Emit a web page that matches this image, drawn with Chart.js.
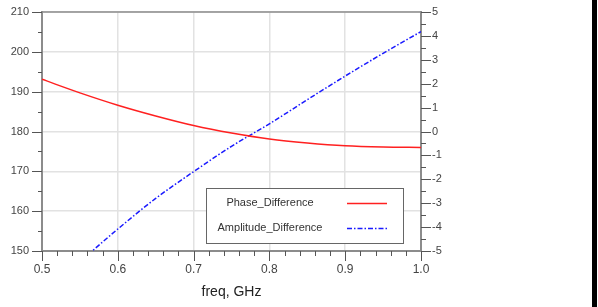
<!DOCTYPE html>
<html>
<head>
<meta charset="utf-8">
<script src="https://cdn.jsdelivr.net/npm/chart.js@4.4.0/dist/chart.umd.min.js"></script>
<style>
    body { margin: 0; background: #fff; }
    #wrap { position: relative; width: 598px; height: 307px; }
    #strip { position: absolute; left: 592px; top: 0; width: 5px; height: 307px; background: #000; }
</style>
</head>
<body>
<div id="wrap">
    <canvas id="phaseChart" width="598" height="307"></canvas>
    <div id="strip"></div>
</div>
<script>
// Chart data
const freqs = [0.5, 0.55, 0.6, 0.65, 0.7, 0.75, 0.8, 0.85, 0.9, 0.95, 1.0];
const phaseDiff = [193.1, 189.7, 186.6, 183.9, 181.5, 179.6, 178.1, 177.1, 176.4, 176.1, 176.0];
const ampDiff = [null, -5.45, -4.08, -2.8, -1.68, -0.62, 0.32, 1.33, 2.32, 3.27, 4.18];
const seriesNames = ['Phase_Difference', 'Amplitude_Difference'];
const xTitle = 'freq, GHz';

const FONT = 'Liberation Sans, Arial, sans-serif';
const AXIS_GRAY = '#8c8c8c';
const GRID_GRAY = '#e2e2e2';

function isMultiple(value, step) {
    const r = value / step;
    return Math.abs(r - Math.round(r)) < 1e-6;
}

function toPoints(values) {
    return freqs.map((f, i) => ({ x: f, y: values[i] }));
}

// fixed axis sizes so the plot box lands where the reference has it
function fitVertical(width) {
    return scale => {
        scale.width = width;
        scale.paddingTop = 0;
        scale.paddingBottom = 0;
    };
}

// Draws minor/major tick marks, the top frame line and the boxed legend
const decorPlugin = {
    id: 'decor',
    afterDraw(chart) {
        const ctx = chart.ctx;
        const area = chart.chartArea;
        const sx = chart.scales.x;
        const sy = chart.scales.y;
        const sy1 = chart.scales.y1;
        ctx.save();
        ctx.strokeStyle = '#555';
        ctx.lineWidth = 1;

        // bottom ticks
        for (let v = 0.5; v <= 1.0001; v += 0.02) {
            const px = Math.round(sx.getPixelForValue(v)) + 0.5;
            const len = isMultiple(v, 0.1) ? 10 : 5;
            ctx.beginPath();
            ctx.moveTo(px, area.bottom);
            ctx.lineTo(px, area.bottom + len);
            ctx.stroke();
        }
        // left ticks
        for (let v = 150; v <= 210; v += 5) {
            const py = Math.round(sy.getPixelForValue(v)) + 0.5;
            const len = isMultiple(v, 10) ? 10 : 4;
            ctx.beginPath();
            ctx.moveTo(area.left - len, py);
            ctx.lineTo(area.left, py);
            ctx.stroke();
        }
        // right ticks
        for (let v = -5; v <= 5.0001; v += 0.5) {
            const py = Math.round(sy1.getPixelForValue(v)) + 0.5;
            const len = isMultiple(v, 1) ? 10 : 5;
            ctx.beginPath();
            ctx.moveTo(area.right, py);
            ctx.lineTo(area.right + len, py);
            ctx.stroke();
        }

        // top frame line
        ctx.strokeStyle = AXIS_GRAY;
        ctx.lineWidth = 1.5;
        ctx.beginPath();
        ctx.moveTo(area.left, area.top);
        ctx.lineTo(area.right, area.top);
        ctx.stroke();

        // legend box
        const bx = 206.5, by = 188.5, bw = 197, bh = 55;
        ctx.fillStyle = '#fff';
        ctx.fillRect(bx, by, bw, bh);
        ctx.strokeStyle = '#666';
        ctx.lineWidth = 1;
        ctx.strokeRect(bx, by, bw, bh);

        ctx.font = '11px ' + FONT;
        ctx.fillStyle = '#333';
        ctx.textAlign = 'center';
        ctx.textBaseline = 'middle';
        const rows = [203, 228];
        chart.data.datasets.forEach((ds, i) => {
            ctx.fillText(ds.label, 270, rows[i]);
            ctx.strokeStyle = ds.borderColor;
            ctx.lineWidth = ds.borderWidth;
            ctx.setLineDash(ds.borderDash || []);
            ctx.beginPath();
            ctx.moveTo(347, rows[i] + 0.5);
            ctx.lineTo(387, rows[i] + 0.5);
            ctx.stroke();
            ctx.setLineDash([]);
        });
        ctx.restore();
    }
};

const ctx = document.getElementById('phaseChart').getContext('2d');

new Chart(ctx, {
    type: 'line',
    data: {
        datasets: [
            {
                label: seriesNames[0],
                data: toPoints(phaseDiff),
                yAxisID: 'y',
                borderColor: '#ff2020',
                borderWidth: 1.5,
                pointRadius: 0,
                cubicInterpolationMode: 'monotone',
                fill: false
            },
            {
                label: seriesNames[1],
                data: toPoints(ampDiff),
                yAxisID: 'y1',
                borderColor: '#1a1aff',
                borderWidth: 1.5,
                borderDash: [5, 2, 1.5, 2],
                pointRadius: 0,
                cubicInterpolationMode: 'monotone',
                fill: false
            }
        ]
    },
    options: {
        responsive: false,
        animation: false,
        layout: {
            padding: { top: 12, right: 153, left: 0, bottom: 0 }
        },
        plugins: {
            legend: { display: false },
            tooltip: { enabled: false }
        },
        scales: {
            x: {
                type: 'linear',
                min: 0.5,
                max: 1.0,
                afterFit: scale => {
                    scale.height = 56;
                    scale.paddingLeft = 0;
                    scale.paddingRight = 0;
                },
                border: { color: AXIS_GRAY, width: 2 },
                grid: {
                    drawTicks: false,
                    lineWidth: 1.5,
                    color: c => (c.tick && isMultiple(c.tick.value, 0.1)) ? GRID_GRAY : 'rgba(0,0,0,0)'
                },
                ticks: {
                    stepSize: 0.02,
                    autoSkip: false,
                    maxRotation: 0,
                    padding: 11,
                    color: '#444',
                    font: { family: FONT, size: 12 },
                    callback: v => isMultiple(v, 0.1) ? v.toFixed(1) : ''
                },
                title: {
                    display: true,
                    text: xTitle,
                    color: '#222',
                    font: { family: FONT, size: 14 },
                    padding: { top: 0, bottom: 6 }
                }
            },
            y: {
                position: 'left',
                min: 150,
                max: 210,
                afterFit: fitVertical(42),
                border: { color: AXIS_GRAY, width: 2 },
                grid: {
                    drawTicks: false,
                    lineWidth: 1.5,
                    color: c => (c.tick && isMultiple(c.tick.value, 10)) ? GRID_GRAY : 'rgba(0,0,0,0)'
                },
                ticks: {
                    stepSize: 5,
                    autoSkip: false,
                    padding: 13,
                    color: '#444',
                    font: { family: FONT, size: 11 },
                    callback: v => isMultiple(v, 10) ? String(v) : ''
                }
            },
            y1: {
                position: 'right',
                min: -5,
                max: 5,
                afterFit: fitVertical(24),
                border: { color: AXIS_GRAY, width: 2 },
                grid: { display: false, drawTicks: false },
                ticks: {
                    stepSize: 0.5,
                    autoSkip: false,
                    padding: 11,
                    color: '#444',
                    font: { family: FONT, size: 11 },
                    callback: v => isMultiple(v, 1) ? String(v) : ''
                }
            }
        }
    },
    plugins: [decorPlugin]
});
</script>
</body>
</html>
